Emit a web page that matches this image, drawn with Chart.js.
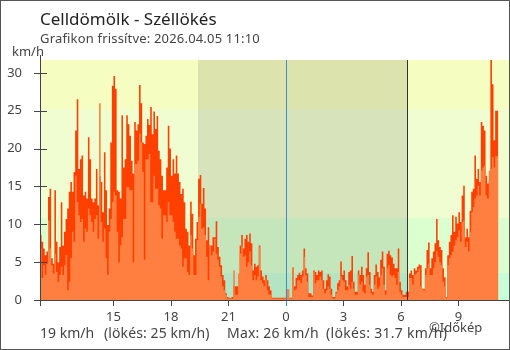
<!DOCTYPE html>
<html>
<head>
<meta charset="utf-8">
<script src="https://cdn.jsdelivr.net/npm/chart.js@4.4.1/dist/chart.umd.min.js"></script>
<style>
  html, body { margin: 0; padding: 0; background: #fff; }
  #wrap { position: relative; width: 510px; height: 350px; overflow: hidden; font-family: "Noto Sans", sans-serif; color: #444; }
  #chart { position: absolute; left: 0; top: 0; }
  #frame { position: absolute; left: 0; top: 0; width: 510px; height: 350px; box-sizing: border-box; border: 1px solid #555; pointer-events: none; }
  .txt { position: absolute; white-space: pre; line-height: 1; }
</style>
</head>
<body>
<div id="wrap">
  <canvas id="chart" width="510" height="350"></canvas>
  <div class="txt" id="title" style="left:40px; top:10px; font-size:17px; color:#222;">Celldömölk - Széllökés</div>
  <div class="txt" id="updated" style="left:40px; top:32px; font-size:13px; letter-spacing:0.18px;">Grafikon frissítve: 2026.04.05 11:10</div>
  <div class="txt" id="unit" style="left:12px; top:45px; font-size:13px;">km/h</div>
  <div class="txt" id="nowWind" style="left:40px; top:326px; font-size:14px;"></div>
  <div class="txt" id="nowGust" style="left:104px; top:326px; font-size:14px; letter-spacing:0.1px;"></div>
  <div class="txt" id="maxWind" style="left:227px; top:326px; font-size:14px; letter-spacing:0.2px;"></div>
  <div class="txt" id="maxGust" style="left:326px; top:326px; font-size:14px; letter-spacing:0.3px;"></div>
  <div class="txt" id="credit" style="left:429px; top:321px; font-size:13px;">©Időkép</div>
  <div id="frame"></div>
</div>
<script>
// 5 perces mérések, 11:10-től (előző nap) 11:05-ig
const startHour = -(12 + 50 / 60);   // órák éjfélhez képest
const stepMinutes = 5;

// széllökés km/h
const gust = [
  9.9, 8.6, 7.7, 6.8, 5.9, 6.4, 13.6, 14.7, 5.5, 4.8,
  14.5, 7.7, 5.0, 7.0, 12.9, 7.2, 9.0, 10.7, 12.1, 14.3,
  15.6, 14.3, 16.9, 22.4, 26.5, 17.3, 18.6, 19.1, 13.8, 14.3,
  13.4, 21.5, 18.6, 13.4, 12.9, 13.4, 17.3, 12.5, 16.4, 15.6,
  11.6, 19.5, 14.5, 9.9, 12.1, 20.8, 28.3, 29.6, 27.9, 14.5,
  14.3, 13.4, 24.4, 17.5, 18.6, 24.4, 23.2, 21.7, 18.4, 16.7,
  23.5, 22.4, 23.2, 28.4, 26.0, 20.8, 20.6, 21.7, 23.9, 23.1,
  25.5, 21.9, 24.9, 22.6, 24.3, 19.7, 18.6, 16.4, 14.5, 14.5,
  17.5, 23.0, 20.0, 16.4, 18.6, 16.7, 19.1, 16.7, 15.6, 14.0,
  14.7, 12.9, 9.4, 9.0, 7.2, 13.0, 11.4, 5.9, 8.1, 10.3,
  16.0, 16.5, 12.7, 14.8, 12.1, 7.9, 9.6, 7.2, 7.2, 8.3,
  8.3, 10.4, 7.0, 5.7, 4.6, 3.3, 2.6, 0.9, 0.4, 0.3,
  0.3, 0.4, 1.8, 1.8, 1.8, 2.0, 7.2, 8.6, 6.8, 8.1,
  8.6, 7.7, 8.8, 7.5, 3.9, 4.8, 4.4, 4.6, 7.2, 3.9,
  3.1, 2.6, 3.3, 2.6, 1.8, 1.3, 0.3, 0.3, 0.3, 0.3,
  0.3, 0.3, 0.3, 0.3, 0.3, 1.4, 1.4, 0.3, 0.3, 4.3,
  1.8, 2.9, 3.3, 3.6, 3.3, 3.9, 6.8, 4.2, 3.5, 0.9,
  0.9, 0.6, 3.9, 3.7, 3.3, 3.9, 3.7, 3.9, 2.6, 1.5,
  2.6, 3.4, 3.1, 1.5, 0.4, 0.4, 1.1, 2.2, 2.6, 5.1,
  3.3, 3.9, 2.6, 1.8, 3.7, 3.9, 5.8, 2.4, 1.1, 1.1,
  3.9, 3.3, 4.4, 3.3, 2.0, 4.2, 6.3, 3.7, 1.5, 1.1,
  3.3, 4.7, 3.7, 3.0, 5.3, 6.4, 4.4, 1.3, 6.1, 6.5,
  5.9, 5.6, 4.8, 4.2, 4.2, 6.8, 2.4, 1.3, 0.7, 0.7,
  1.1, 1.1, 3.5, 3.9, 3.3, 4.2, 3.9, 4.4, 4.7, 4.6,
  1.5, 1.5, 4.2, 6.6, 7.6, 4.2, 5.5, 6.4, 7.5, 10.7,
  7.9, 7.0, 6.6, 4.2, 3.0, 0.4, 5.9, 7.7, 8.6, 11.2,
  9.0, 11.0, 10.1, 11.6, 10.3, 13.8, 15.1, 8.3, 9.4, 8.3,
  11.8, 14.3, 14.7, 19.1, 16.0, 17.3, 15.6, 23.5, 23.0, 22.4,
  16.4, 15.4, 15.8, 31.7, 28.5, 21.1, 25.0
];

// átlagszél km/h
const wind = [
  3.9, 6.8, 2.9, 4.6, 3.3, 4.8, 10.5, 6.8, 4.6, 3.5,
  6.1, 3.7, 2.4, 3.3, 4.4, 3.3, 4.6, 5.9, 1.3, 2.4,
  5.5, 9.0, 7.7, 16.4, 12.9, 11.2, 10.3, 10.7, 7.7, 9.4,
  9.0, 12.1, 11.2, 10.3, 9.0, 10.7, 11.2, 8.1, 26.0, 10.3,
  7.7, 9.4, 5.5, 3.3, 9.0, 10.7, 12.9, 14.3, 13.8, 9.0,
  5.0, 7.2, 8.3, 10.7, 10.7, 14.9, 14.9, 14.5, 14.5, 5.0,
  18.0, 18.0, 18.4, 22.0, 20.8, 16.9, 5.3, 18.6, 18.6, 19.3,
  12.9, 12.9, 16.4, 14.7, 14.7, 12.5, 12.1, 8.1, 11.2, 11.2,
  10.3, 12.9, 11.2, 11.2, 10.3, 9.0, 8.1, 8.1, 7.2, 6.8,
  4.4, 5.5, 5.5, 3.7, 3.3, 8.6, 6.8, 3.3, 3.3, 7.9,
  11.0, 12.7, 9.4, 9.6, 8.6, 5.7, 2.6, 7.2, 5.9, 6.4,
  8.1, 6.1, 5.3, 4.4, 3.1, 1.8, 1.3, 0.7, 0.2, 0.2,
  0.2, 0.2, 3.9, 0.7, 0.7, 3.5, 6.1, 7.2, 5.7, 5.9,
  4.4, 5.0, 6.4, 4.6, 2.6, 3.3, 2.6, 3.1, 7.0, 2.6,
  2.2, 1.8, 2.6, 1.3, 0.7, 0.7, 0.2, 0.2, 0.2, 0.2,
  0.2, 0.2, 0.2, 0.2, 0.2, 1.4, 1.4, 0.2, 0.2, 4.2,
  1.3, 1.5, 2.6, 2.6, 2.2, 3.1, 5.7, 3.3, 2.4, 0.4,
  0.4, 0.4, 3.7, 2.2, 2.6, 2.6, 3.1, 2.6, 1.5, 0.9,
  1.3, 1.8, 1.5, 0.7, 0.2, 0.2, 0.9, 1.3, 1.8, 3.1,
  2.6, 2.4, 1.3, 1.3, 2.0, 1.5, 2.4, 1.5, 0.7, 0.7,
  3.3, 2.0, 2.4, 1.1, 0.9, 3.1, 3.3, 2.0, 0.9, 0.7,
  2.0, 3.1, 1.5, 1.8, 3.3, 4.2, 2.0, 0.7, 4.2, 4.6,
  3.3, 3.1, 3.3, 2.9, 2.0, 3.7, 1.1, 0.7, 0.4, 0.4,
  0.4, 0.4, 2.9, 2.9, 2.0, 3.3, 3.5, 3.7, 4.2, 1.8,
  1.5, 1.3, 3.3, 4.2, 4.8, 3.3, 3.3, 4.2, 5.0, 6.4,
  5.7, 5.0, 4.6, 2.4, 1.8, 0.3, 4.6, 5.5, 5.9, 6.4,
  7.2, 7.9, 8.3, 9.2, 7.7, 10.3, 10.5, 7.0, 7.7, 6.4,
  9.0, 11.6, 12.3, 13.4, 13.8, 15.1, 13.8, 17.1, 17.5, 17.8,
  13.8, 13.4, 17.1, 17.3, 18.9, 17.5, 19.0
];

// tengelyek
const xTicks = [-9, -6, -3, 0, 3, 6, 9];
const yTicks = [0, 5, 10, 15, 20, 25, 30];
const xMin = startHour;
const xMax = 11.64;
const yMax = Math.max(...gust);

// sávok m/s határokkal (1, 3, 7 m/s)
const bandEdges = [0, 3.6, 10.8, 25.2, yMax];
const bandColors = ['#c8ffd8', '#dcffd0', '#f0fdd0', '#f5fdc0'];

// napnyugta, napkelte (órában, éjfélhez képest)
const sunset = 19 + 25 / 60 - 24;
const sunrise = 6 + 19 / 60;

function series(values) {
  const pts = values.map((v, i) => ({ x: startHour + i * stepMinutes / 60, y: v }));
  // utolsó intervallum lezárása
  pts.push({ x: startHour + values.length * stepMinutes / 60, y: values[values.length - 1] });
  return pts;
}

const fmt = v => String(Math.round(v * 10) / 10);
document.getElementById('nowWind').textContent = fmt(wind[wind.length - 1]) + ' km/h';
document.getElementById('nowGust').textContent = '(lökés: ' + fmt(gust[gust.length - 1]) + ' km/h)';
document.getElementById('maxWind').textContent = 'Max: ' + fmt(Math.max(...wind)) + ' km/h';
document.getElementById('maxGust').textContent = '(lökés: ' + fmt(Math.max(...gust)) + ' km/h)';

const backdrop = {
  id: 'backdrop',
  beforeDatasetsDraw(chart) {
    const { ctx, chartArea: a, scales: { x, y } } = chart;
    ctx.save();
    for (let i = 0; i < bandColors.length; i++) {
      const y0 = Math.round(y.getPixelForValue(bandEdges[i]));
      const y1 = Math.round(y.getPixelForValue(bandEdges[i + 1]));
      ctx.fillStyle = bandColors[i];
      ctx.fillRect(a.left, y1, a.right - a.left, y0 - y1);
    }
    // éjszaka
    const n0 = Math.round(x.getPixelForValue(sunset));
    const n1 = Math.round(x.getPixelForValue(sunrise));
    ctx.fillStyle = 'rgba(0,0,0,0.1)';
    ctx.fillRect(n0, a.top, n1 - n0, a.bottom - a.top);
    ctx.restore();
  },
  afterDatasetsDraw(chart) {
    const { ctx, chartArea: a, scales: { x, y } } = chart;
    ctx.save();
    ctx.lineWidth = 1;
    // éjfél
    const mx = Math.round(x.getPixelForValue(0)) + 0.5;
    ctx.strokeStyle = '#3a8fd2';
    ctx.beginPath(); ctx.moveTo(mx, a.top); ctx.lineTo(mx, a.bottom + 6); ctx.stroke();
    // napkelte
    const sx = Math.round(x.getPixelForValue(sunrise)) + 0.5;
    ctx.strokeStyle = '#333';
    ctx.beginPath(); ctx.moveTo(sx, a.top); ctx.lineTo(sx, a.bottom); ctx.stroke();
    // tengelyvonalak
    ctx.strokeStyle = '#444';
    const ax = a.left + 0.5;
    const by = a.bottom + 0.5;
    ctx.beginPath();
    ctx.moveTo(ax, a.top - 5); ctx.lineTo(ax, a.bottom + 6);
    ctx.moveTo(a.left, by); ctx.lineTo(a.right, by);
    yTicks.forEach(v => {
      const py = Math.round(y.getPixelForValue(v)) + 0.5;
      ctx.moveTo(a.left - 6, py); ctx.lineTo(a.left + 7, py);
    });
    xTicks.forEach(v => {
      if (v === 0) return;
      const px = Math.round(x.getPixelForValue(v)) + 0.5;
      ctx.moveTo(px, a.bottom); ctx.lineTo(px, a.bottom + 6);
    });
    ctx.stroke();
    ctx.restore();
  }
};

new Chart(document.getElementById('chart'), {
  type: 'line',
  data: {
    datasets: [
      {
        label: 'Szél',
        data: series(wind),
        order: 1,
        stepped: 'after',
        fill: 'origin',
        backgroundColor: '#ff7f40',
        borderColor: 'rgba(0,0,0,0)',
        borderWidth: 0,
        pointRadius: 0
      },
      {
        label: 'Széllökés',
        data: series(gust),
        order: 2,
        stepped: 'after',
        fill: 'origin',
        backgroundColor: '#ff4000',
        borderColor: 'rgba(0,0,0,0)',
        borderWidth: 0,
        pointRadius: 0
      }
    ]
  },
  options: {
    responsive: false,
    animation: false,
    devicePixelRatio: 1,
    layout: { padding: { top: 60, right: 1, bottom: 0, left: 0 } },
    plugins: { legend: { display: false }, tooltip: { enabled: false } },
    scales: {
      x: {
        type: 'linear',
        min: xMin,
        max: xMax,
        afterFit: s => { s.height = 50; },
        afterBuildTicks: s => { s.ticks = xTicks.map(v => ({ value: v })); },
        grid: { display: false, drawTicks: false },
        border: { display: false },
        ticks: {
          padding: 9,
          color: '#444',
          font: { family: 'Noto Sans', size: 13 },
          maxRotation: 0,
          autoSkip: false,
          callback: v => String((v + 24) % 24)
        }
      },
      y: {
        min: 0,
        max: yMax,
        afterFit: s => { s.width = 40; },
        afterBuildTicks: s => { s.ticks = yTicks.map(v => ({ value: v })); },
        grid: { display: false, drawTicks: false },
        border: { display: false },
        ticks: {
          padding: 18,
          color: '#444',
          font: { family: 'Noto Sans', size: 13 }
        }
      }
    }
  },
  plugins: [backdrop]
});
</script>
</body>
</html>
